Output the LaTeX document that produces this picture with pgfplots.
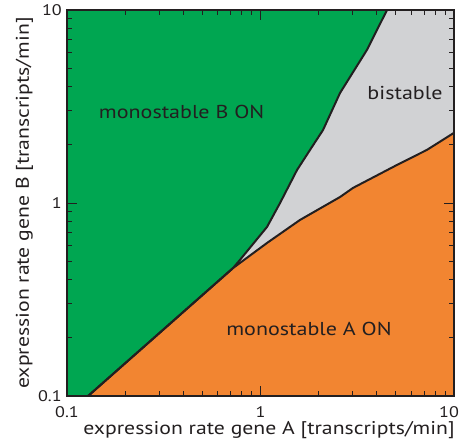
\documentclass[border=0pt]{standalone}
\usepackage{pgfplots}
\pgfplotsset{compat=1.18}
\usepackage{fontspec}
\setmainfont{PT Sans}[FakeStretch=1.18]
\definecolor{monoB}{RGB}{0,166,81}
\definecolor{monoA}{RGB}{242,133,49}
\definecolor{bistab}{RGB}{209,210,212}
\definecolor{ink}{RGB}{35,31,32}

% boundary of the "monostable B ON" region
\pgfplotstableread{
x y
0.1285 0.1
0.721 0.460
0.783 0.507
1.081 0.752
1.262 1.0
1.545 1.483
1.803 1.884
2.104 2.388
2.576 3.715
3.548 6.209
4.508 10
}\upperedge
% boundary of the "monostable A ON" region
\pgfplotstableread{
x y
0.1285 0.1
0.721 0.460
1.081 0.621
1.600 0.817
2.576 1.074
3.006 1.197
5.070 1.574
7.244 1.884
10 2.31
}\loweredge

\begin{document}
\begin{tikzpicture}
\begin{axis}[
  name=ax,
  scale only axis,
  width=290.25pt, height=289.5pt,
  xmode=log, ymode=log,
  xmin=0.1, xmax=10, ymin=0.1, ymax=10,
  xtick={0.1,1,10}, ytick={0.1,1,10},
  xticklabels={0.1,1,\makebox[0pt]{\hspace*{-7.5pt}10}},
  yticklabels={0.1,1,10},
  tick align=inside,
  major tick length=7.5pt, minor tick length=4pt,
  tick style={draw=ink, line width=0.75pt},
  axis line style={draw=ink, line width=0.9pt},
  axis background/.style={fill=bistab},
  /pgf/number format/assume math mode=true,
  tick label style={font=\fontsize{11.5}{13}\selectfont, text=ink, inner sep=0pt},
  xticklabel style={anchor=base, yshift=-15.75pt},
  yticklabel style={anchor=east, xshift=-3.75pt},
  label style={font=\fontsize{13.8}{16}\selectfont, text=ink, inner sep=0pt},
  xlabel={expression rate gene A [transcripts/min]},
  ylabel={expression rate gene B [transcripts/min]},
  xlabel style={at={(axis description cs:0.522,-0.0985)}, anchor=base},
  ylabel style={at={(axis description cs:-0.0982,0.5)}, anchor=base},
  axis on top,
]
% monostable B ON (upper left)
\addplot[draw=none, fill=monoB] table[x=x,y=y] {\upperedge}
  -- (axis cs:0.1,10) -- (axis cs:0.1,0.1) -- cycle;
% monostable A ON (lower right)
\addplot[draw=none, fill=monoA] table[x=x,y=y] {\loweredge}
  -- (axis cs:10,0.1) -- (axis cs:0.1285,0.1) -- cycle;
% phase boundaries
\addplot[ink, line width=1.5pt, line join=round] table[x=x,y=y] {\upperedge};
\addplot[ink, line width=1.5pt, line join=round] table[x=x,y=y] {\loweredge};

% inward tick marks on all four sides, over the coloured regions
\pgfplotsinvokeforeach{0.2,0.3,0.4,0.5,0.6,0.7,0.8,0.9,2,3,4,5,6,7,8,9}{
  \draw[ink, line width=0.75pt] (axis cs:#1,0.1) -- ([yshift=4pt]axis cs:#1,0.1);
  \draw[ink, line width=0.75pt] (axis cs:#1,10) -- ([yshift=-4pt]axis cs:#1,10);
  \draw[ink, line width=0.75pt] (axis cs:0.1,#1) -- ([xshift=4pt]axis cs:0.1,#1);
  \draw[ink, line width=0.75pt] (axis cs:10,#1) -- ([xshift=-4pt]axis cs:10,#1);
}
\draw[ink, line width=0.75pt] (axis cs:1,0.1) -- ([yshift=7.5pt]axis cs:1,0.1);
\draw[ink, line width=0.75pt] (axis cs:1,10) -- ([yshift=-7.5pt]axis cs:1,10);
\draw[ink, line width=0.75pt] (axis cs:0.1,1) -- ([xshift=7.5pt]axis cs:0.1,1);
\draw[ink, line width=0.75pt] (axis cs:10,1) -- ([xshift=-7.5pt]axis cs:10,1);

\node[font=\fontsize{14}{16}\selectfont, text=ink, anchor=base] at (axis cs:0.391,2.754) {monostable B ON};
\node[font=\fontsize{14}{16}\selectfont, text=ink, anchor=base] at (axis cs:5.58,3.42) {bistable};
\node[font=\fontsize{14}{16}\selectfont, text=ink, anchor=base] at (axis cs:1.78,0.207) {monostable A ON};
\end{axis}
\pgfresetboundingbox
\path[use as bounding box] ([shift={(-50.25pt,-37.5pt)}]ax.south west)
  rectangle ([shift={(6pt,7.5pt)}]ax.north east);
\end{tikzpicture}
\end{document}
